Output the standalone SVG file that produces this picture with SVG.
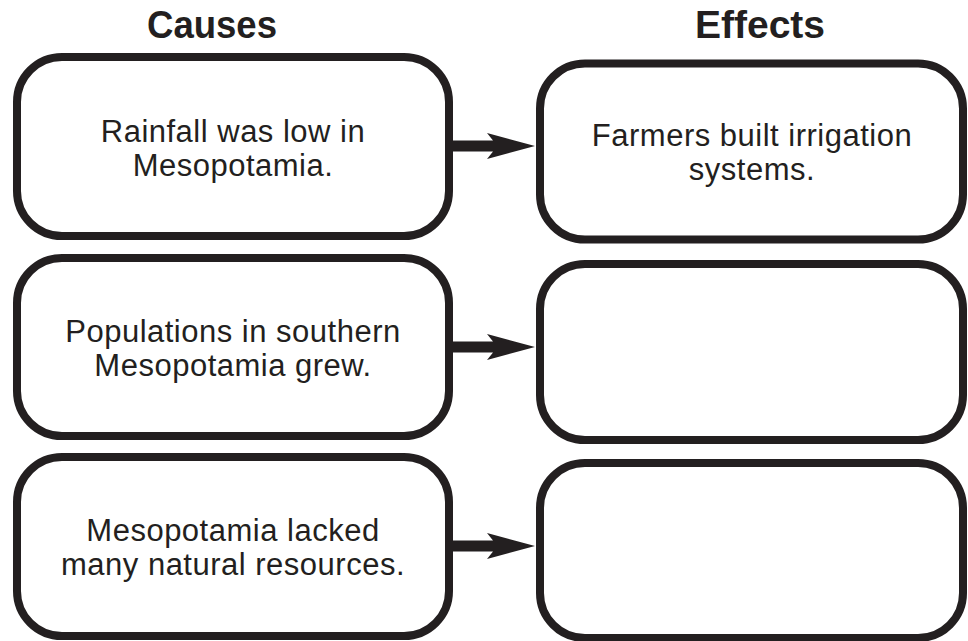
<svg xmlns="http://www.w3.org/2000/svg" width="968" height="641" viewBox="0 0 968 641">
<style>
.box{fill:#fff;stroke:#231f20;stroke-width:8}
.hd{font-family:"Liberation Sans",Arial,sans-serif;font-weight:bold;font-size:38px;fill:#231f20;text-anchor:middle}
.tx{font-family:"Liberation Sans",Arial,sans-serif;font-size:31px;letter-spacing:0.5px;fill:#231f20;text-anchor:middle}
.arr{fill:#231f20}
</style>
<rect width="968" height="641" fill="#fff"/>
<g id="headers">
<text class="hd" x="212" y="38" textLength="130" lengthAdjust="spacingAndGlyphs">Causes</text>
<text class="hd" x="760" y="38" textLength="130" lengthAdjust="spacingAndGlyphs">Effects</text>
</g>
<g id="cause1">
<rect class="box" x="17" y="57" width="432" height="179" rx="45" ry="45"/>
<text class="tx" x="233" y="142">Rainfall was low in</text>
<text class="tx" x="233" y="176">Mesopotamia.</text>
</g>
<g id="cause2">
<rect class="box" x="17" y="258" width="432" height="178" rx="45" ry="45"/>
<text class="tx" x="233" y="342">Populations in southern</text>
<text class="tx" x="233" y="376">Mesopotamia grew.</text>
</g>
<g id="cause3">
<rect class="box" x="17" y="457" width="432" height="179" rx="45" ry="45"/>
<text class="tx" x="233" y="541">Mesopotamia lacked</text>
<text class="tx" x="233" y="575">many natural resources.</text>
</g>
<g id="effect1">
<rect class="box" x="540" y="63.5" width="423" height="176" rx="45" ry="45"/>
<text class="tx" x="752" y="146">Farmers built irrigation</text>
<text class="tx" x="752" y="180">systems.</text>
</g>
<g id="effect2">
<rect class="box" x="540" y="264" width="423" height="176" rx="45" ry="45"/>
</g>
<g id="effect3">
<rect class="box" x="540" y="463" width="423" height="175" rx="45" ry="45"/>
</g>
<g id="connectors">
<polygon class="arr" points="453,140.5 493,140.5 487,133 535,146 487,159 493,151.5 453,151.5"/>
<polygon class="arr" points="453,341.5 493,341.5 487,334 535,347 487,360 493,352.5 453,352.5"/>
<polygon class="arr" points="453,540.5 493,540.5 487,533 535,546 487,559 493,551.5 453,551.5"/>
</g>
</svg>
